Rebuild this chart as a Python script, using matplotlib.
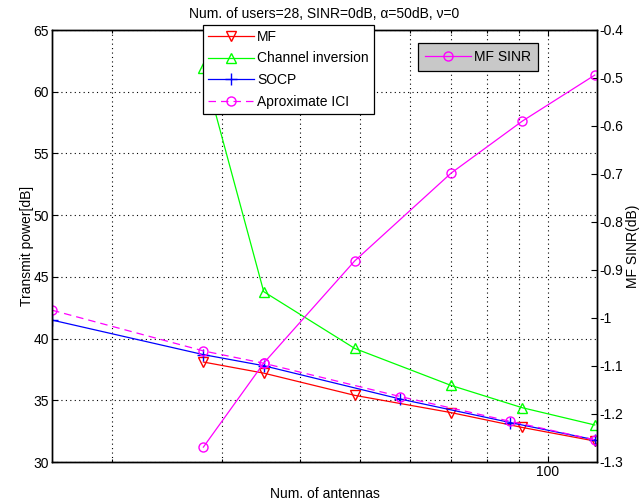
import matplotlib
matplotlib.use("Agg")
import matplotlib.pyplot as plt
from matplotlib.ticker import LogLocator, NullFormatter, FixedLocator, FixedFormatter, FuncFormatter

plt.rcParams['font.family'] = ['Liberation Sans', 'DejaVu Sans']

# ---- data ----
ant_mf = [28, 35, 49, 70, 91, 119]
mf_power = [38.1, 37.2, 35.4, 34.0, 32.8, 31.7]

ant_ci = [28, 35, 49, 70, 91, 119]
ci_power = [61.9, 43.8, 39.2, 36.2, 34.4, 33.0]

ant_socp = [16, 28, 35, 58, 87, 119]
socp_power = [41.5, 38.7, 37.8, 35.1, 33.2, 31.8]

ant_ici = [16, 28, 35, 58, 87, 119]
ici_power = [42.3, 39.0, 38.0, 35.3, 33.3, 31.8]

ant_sinr = [28, 35, 49, 70, 91, 119]
mf_sinr = [-1.269, -1.094, -0.881, -0.698, -0.590, -0.494]

title = "Num. of users=28, SINR=0dB, \u03b1=50dB, \u03bd=0"
xlabel = "Num. of antennas"
ylabel_left = "Transmit power[dB]"
ylabel_right = "MF SINR(dB)"
left_ticks = [30, 35, 40, 45, 50, 55, 60, 65]
right_ticks = [-1.3, -1.2, -1.1, -1.0, -0.9, -0.8, -0.7, -0.6, -0.5, -0.4]
right_labels = ["-1.3", "-1.2", "-1.1", "-1", "-0.9", "-0.8", "-0.7", "-0.6", "-0.5", "-0.4"]

fs = 10
fig = plt.figure(figsize=(6.39, 5.04), dpi=100)
ax1 = fig.add_axes([52/639, 1-462/504, (597-52)/639, (462-30)/504])
ax2 = ax1.twinx()

lw = 0.9
ms = 6.5
l1, = ax1.plot(ant_mf, mf_power, color='#ff0000', lw=lw, marker='v', ms=ms, mfc='none', mec='#ff0000', label='MF')
l2, = ax1.plot(ant_ci, ci_power, color='#00ff00', lw=lw, marker='^', ms=ms, mfc='none', mec='#00ff00', label='Channel inversion')
l3, = ax1.plot(ant_socp, socp_power, color='#0000ff', lw=lw, marker='+', ms=ms+2, mec='#0000ff', label='SOCP')
l4, = ax1.plot(ant_ici, ici_power, color='#ff00ff', lw=lw, ls=(0, (6, 4)), marker='o', ms=ms, mfc='none', mec='#ff00ff', label='Aproximate ICI')
l5, = ax2.plot(ant_sinr, mf_sinr, color='#ff00ff', lw=lw, marker='o', ms=ms, mfc='none', mec='#ff00ff', label='MF SINR')

ax1.set_xscale('log')
ax1.set_xlim(16, 120)
ax1.set_ylim(30, 65)
ax2.set_ylim(-1.3, -0.4)

ax1.xaxis.set_major_locator(LogLocator(base=10))
ax1.xaxis.set_major_formatter(FuncFormatter(lambda v, p: "%d" % round(v)))
ax1.xaxis.set_minor_locator(LogLocator(base=10, subs=range(2, 10)))
ax1.xaxis.set_minor_formatter(NullFormatter())
ax1.set_yticks(left_ticks)
ax2.yaxis.set_major_locator(FixedLocator(right_ticks))
ax2.yaxis.set_major_formatter(FixedFormatter(right_labels))

ax1.grid(True, which='both', axis='x', ls=(0, (1, 3)), color='black', lw=0.8)
ax1.grid(True, which='major', axis='y', ls=(0, (1, 3)), color='black', lw=0.8)

ax1.tick_params(axis='both', which='both', direction='in', labelsize=fs, top=True, length=4, width=0.8, pad=2)
ax1.tick_params(axis='x', which='minor', length=2.5)
ax2.tick_params(axis='y', direction='in', labelsize=fs, length=4, width=0.8, pad=2)
for ax in (ax1, ax2):
    for s in ax.spines.values():
        s.set_linewidth(1.0)
ax2.patch.set_visible(False)

ax1.set_title(title, fontsize=fs, pad=9)
ax1.set_xlabel(xlabel, fontsize=fs, labelpad=6)
ax1.set_ylabel(ylabel_left, fontsize=fs, labelpad=0)
ax2.set_ylabel(ylabel_right, fontsize=fs, labelpad=2)

leg1 = ax2.legend(handles=[l1, l2, l3, l4], loc='upper left',
                  bbox_to_anchor=(203/639, 1-25/504), bbox_transform=fig.transFigure,
                  fontsize=fs, frameon=True, fancybox=False, edgecolor='black',
                  framealpha=1, handlelength=3.3, numpoints=1, borderpad=0.35,
                  labelspacing=0.55, handletextpad=0.25, borderaxespad=0)
leg1.get_frame().set_linewidth(0.9)
ax2.add_artist(leg1)
leg2 = ax2.legend(handles=[l5], loc='upper left',
                  bbox_to_anchor=(418/639, 1-43/504), bbox_transform=fig.transFigure,
                  fontsize=fs, frameon=True, fancybox=False, edgecolor='black',
                  facecolor='#c8c8c8', framealpha=1, handlelength=3.3, numpoints=1,
                  borderpad=0.5, handletextpad=0.25, borderaxespad=0)
leg2.get_frame().set_linewidth(0.9)

fig.savefig('out.png', dpi=100)
